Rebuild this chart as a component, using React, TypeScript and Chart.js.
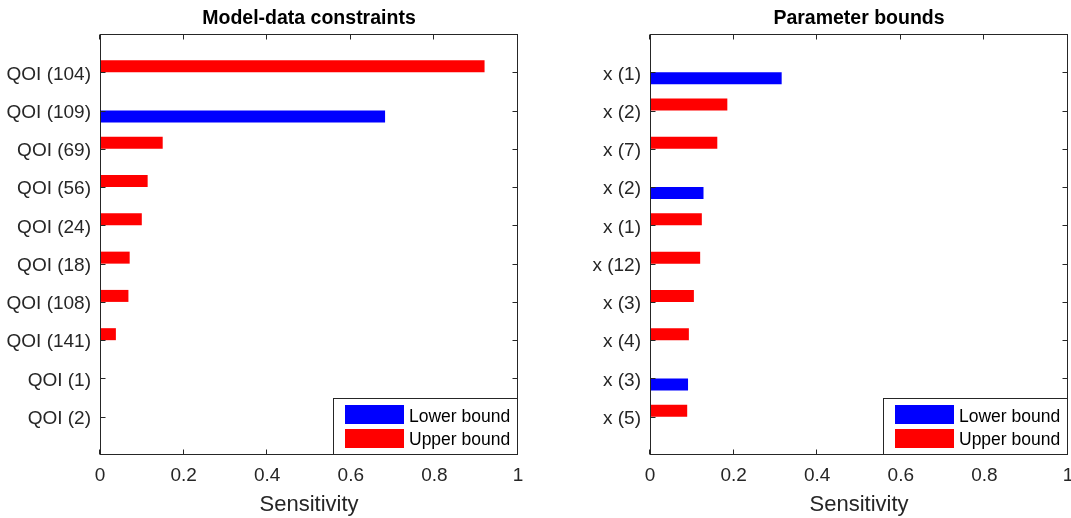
import React, { useEffect, useRef } from 'react';
import { Chart, registerables } from 'chart.js';

Chart.register(...registerables);

// Left panel: sensitivity of the model-data constraints
const constraintLabels = ['QOI (104)', 'QOI (109)', 'QOI (69)', 'QOI (56)', 'QOI (24)', 'QOI (18)', 'QOI (108)', 'QOI (141)', 'QOI (1)', 'QOI (2)'];
const constraintLower = [0.002, 0.682, 0.002, 0.002, 0.002, 0.002, 0.002, 0.002, 0.002, 0.002];
const constraintUpper = [0.920, 0.002, 0.150, 0.114, 0.100, 0.071, 0.068, 0.038, 0.002, 0.002];

// Right panel: sensitivity of the parameter bounds
const paramLabels = ['x (1)', 'x (2)', 'x (7)', 'x (2)', 'x (1)', 'x (12)', 'x (3)', 'x (4)', 'x (3)', 'x (5)'];
const paramLower = [0.315, 0.002, 0.002, 0.128, 0.002, 0.002, 0.002, 0.002, 0.091, 0.002];
const paramUpper = [0.002, 0.185, 0.161, 0.002, 0.124, 0.120, 0.105, 0.093, 0.002, 0.089];

const sensitivityTicks = [0, 0.2, 0.4, 0.6, 0.8, 1];
const seriesNames = ['Lower bound', 'Upper bound'];
const seriesColors = ['#0000ff', '#ff0000'];

const FONT = "'Liberation Sans', Arial, Helvetica, sans-serif";
const INK = '#262626';
const H = 518;

// Axes box with inward ticks on all four sides, plus a boxed legend in the lower right
const axesBoxPlugin = {
  id: 'axesBox',
  afterDatasetsDraw(chart: any) {
    const { ctx, chartArea: a, scales } = chart;
    const xs = scales.x;
    const ys = scales.y;
    const leftX = Math.round(a.left) + 0.5;
    const rightX = Math.round(a.right) - 0.5;
    const topY = Math.round(a.top) + 0.5;
    const botY = Math.round(a.bottom) - 0.5;
    ctx.save();
    ctx.strokeStyle = INK;
    ctx.lineWidth = 1;
    ctx.beginPath();
    for (const t of xs.ticks) {
      const px = Math.round(xs.getPixelForValue(t.value)) - 0.5;
      ctx.moveTo(px, botY);
      ctx.lineTo(px, botY - 5);
      ctx.moveTo(px, topY);
      ctx.lineTo(px, topY + 5);
    }
    const labels = chart.data.labels as string[];
    labels.forEach((lab, i) => {
      if (!lab) return;
      const py = Math.round(ys.getPixelForValue(i)) + 0.5;
      ctx.moveTo(leftX, py);
      ctx.lineTo(leftX + 5, py);
      ctx.moveTo(rightX, py);
      ctx.lineTo(rightX - 5, py);
    });
    ctx.stroke();
    ctx.strokeRect(leftX, topY, rightX - leftX, botY - topY);

    // legend
    const bw = 184;
    const bh = 56;
    const bx = rightX - bw;
    const by = botY - bh;
    ctx.fillStyle = '#ffffff';
    ctx.fillRect(bx, by, bw, bh);
    ctx.strokeRect(bx, by, bw, bh);
    ctx.font = `17.5px ${FONT}`;
    ctx.textBaseline = 'middle';
    ctx.textAlign = 'left';
    seriesNames.forEach((name, i) => {
      ctx.fillStyle = seriesColors[i];
      ctx.fillRect(bx + 11.5, by + 6.5 + i * 24, 59, 19);
      ctx.fillStyle = '#000000';
      ctx.fillText(name, bx + 75.5, by + 19 + i * 23);
    });
    ctx.restore();
  },
};

function makeConfig(title: string, labels: string[], lower: number[], upper: number[], yAxisWidth: number, rightPad: number) {
  const cats = ['', ...labels, ''];
  const pad = (v: number[]) => [null, ...v, null];
  return {
    type: 'bar' as const,
    data: {
      labels: cats,
      datasets: [
        { label: seriesNames[1], data: pad(upper), backgroundColor: seriesColors[1], borderWidth: 0 },
        { label: seriesNames[0], data: pad(lower), backgroundColor: seriesColors[0], borderWidth: 0 },
      ],
    },
    options: {
      indexAxis: 'y' as const,
      responsive: false,
      animation: false as const,
      events: [],
      layout: { padding: { left: 0, right: rightPad, top: 0, bottom: 0 } },
      datasets: { bar: { barPercentage: 1, categoryPercentage: 0.627 } },
      plugins: {
        legend: { display: false },
        tooltip: { enabled: false },
        title: {
          display: true,
          text: title,
          fullSize: false,
          color: '#000000',
          font: { family: FONT, size: 19.5, weight: 'bold' as const, lineHeight: 1.2 },
          padding: { top: 6.5, bottom: 4.1 },
        },
      },
      scales: {
        x: {
          type: 'linear' as const,
          min: 0,
          max: 1,
          grid: { display: false, drawTicks: false },
          border: { display: false },
          afterBuildTicks: (s: any) => {
            s.ticks = sensitivityTicks.map((v) => ({ value: v }));
          },
          afterFit: (s: any) => {
            s.height = H - 455;
            s.paddingLeft = 0;
            s.paddingRight = 0;
          },
          ticks: {
            autoSkip: false,
            maxRotation: 0,
            padding: 9,
            color: INK,
            font: { family: FONT, size: 19 },
            callback: (v: any) => String(Math.round(Number(v) * 10) / 10),
          },
          title: {
            display: true,
            text: 'Sensitivity',
            color: INK,
            font: { family: FONT, size: 22, lineHeight: 1 },
            padding: { top: 0, bottom: 2 },
          },
        },
        y: {
          type: 'category' as const,
          offset: false,
          grid: { display: false, drawTicks: false },
          border: { display: false },
          afterFit: (s: any) => {
            s.width = yAxisWidth;
            s.paddingTop = 0;
            s.paddingBottom = 0;
          },
          ticks: {
            autoSkip: false,
            padding: 9,
            labelOffset: 2,
            color: INK,
            font: { family: FONT, size: 19 },
          },
        },
      },
    },
    plugins: [axesBoxPlugin],
  };
}

function Panel(props: { width: number; left: number; config: any }) {
  const ref = useRef<HTMLCanvasElement | null>(null);
  useEffect(() => {
    if (!ref.current) return;
    const chart = new Chart(ref.current, props.config);
    return () => chart.destroy();
  }, []);
  return (
    <div style={{ position: 'absolute', left: props.left, top: 0, width: props.width, height: H }}>
      <canvas ref={ref} width={props.width} height={H} style={{ width: props.width, height: H, display: 'block' }} />
    </div>
  );
}

export default function App() {
  const leftCfg = makeConfig('Model-data constraints', constraintLabels, constraintLower, constraintUpper, 100, 22);
  const rightCfg = makeConfig('Parameter bounds', paramLabels, paramLower, paramUpper, 110, 3);
  return (
    <div style={{ position: 'fixed', left: 0, top: 0, width: 1071, height: H, background: '#ffffff', overflow: 'hidden' }}>
      <Panel left={0} width={540} config={leftCfg} />
      <Panel left={540} width={531} config={rightCfg} />
    </div>
  );
}
